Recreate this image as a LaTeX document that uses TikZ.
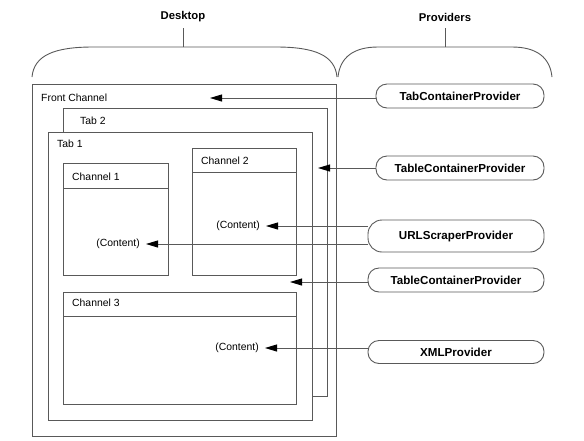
\documentclass[tikz,border=0pt]{standalone}
\usepackage{fontspec}
\setmainfont{Liberation Sans}
\usetikzlibrary{arrows.meta}
\tikzset{
  frame/.style={draw=black!65, line width=0.9pt},
  provider/.style={draw=black!65, line width=0.9pt, rounded corners=11pt, inner sep=0pt,
    minimum height=24pt, font=\fontsize{11.6}{13}\selectfont\bfseries},
  caption/.style={inner sep=0pt, anchor=west, font=\fontsize{10.4}{12}\selectfont},
  content/.style={inner xsep=6pt, inner ysep=0pt, font=\fontsize{10.4}{12}\selectfont},
  feed/.style={draw=black!65, line width=0.9pt, -{Triangle[length=12pt,width=7pt,color=black]}},
}
\begin{document}
\begin{tikzpicture}[x=1pt, y=-1pt]
\useasboundingbox (0,0) rectangle (584,440);
% Accolades
\node[font=\fontsize{11.3}{13}\selectfont\bfseries] (desk) at (183,17) {Desktop};
\node[font=\fontsize{11.3}{13}\selectfont\bfseries] (prov) at (445,17) {Providers};
\draw[frame] (32,77) .. controls (34,55) and (55,47) .. (93,47) -- (276,47)
  .. controls (314,47) and (335,55) .. (337,77);
\draw[frame] (183,47) -- (183,28);
\draw[frame] (338,77) .. controls (340,57) and (354,47) .. (378,47) -- (512,47)
  .. controls (536,47) and (550,57) .. (552,77);
\draw[frame] (445,47) -- (445,28);
% Cadres
\draw[frame] (32,84) rectangle (336,436);
\draw[frame] (63,108) rectangle (327,396);
\draw[frame, fill=white] (48,132) rectangle (312,420);
\draw[frame] (63,163) rectangle (168,275);
\draw[frame] (63,188) -- (168,188);
\draw[frame] (192,148) rectangle (296,275);
\draw[frame] (192,172) -- (296,172);
\draw[frame] (63,292) rectangle (296,404);
\draw[frame] (63,316) -- (296,316);
% Titres
\node[caption] (fc) at (41,98) {Front Channel};
\node[caption] (t2) at (80,121) {Tab 2};
\node[caption] (t1) at (57,144) {Tab 1};
\node[caption] (c1) at (72,177) {Channel 1};
\node[caption] (c2) at (201,161) {Channel 2};
\node[caption] (c3) at (72,303) {Channel 3};
\node[content, anchor=east] (cont1) at (146,244) {(Content)};
\node[content, anchor=east] (cont2) at (266,226) {(Content)};
\node[content, anchor=east] (cont3) at (265,348) {(Content)};
\coordinate (fcin) at (210,98);
\coordinate (tab2in) at (318,168);
\coordinate (tab1in) at (290,282);
% Fournisseurs
\node[provider, minimum width=168pt] (tabp) at (460,96) {TabContainerProvider};
\node[provider, minimum width=168pt] (tblp) at (460,168) {TableContainerProvider};
\node[provider, minimum width=176pt, minimum height=32pt, rounded corners=14pt] (urlp) at (456,236) {URLScraperProvider};
\node[provider, minimum width=176pt] (tblq) at (456,280) {TableContainerProvider};
\node[provider, minimum width=176pt, minimum height=23pt] (xmlp) at (456,352) {XMLProvider};
% Fleches
\draw[feed] (tabp.west |- fcin) -- (fcin);
\draw[feed] (tblp.west |- tab2in) -- (tab2in);
\draw[feed] (urlp.west |- cont2.east) -- (cont2.east);
\draw[feed] (urlp.west |- cont1.east) -- (cont1.east);
\draw[feed] (tblq.west |- tab1in) -- (tab1in);
\draw[feed] (xmlp.west |- cont3.east) -- (cont3.east);
\end{tikzpicture}
\end{document}
